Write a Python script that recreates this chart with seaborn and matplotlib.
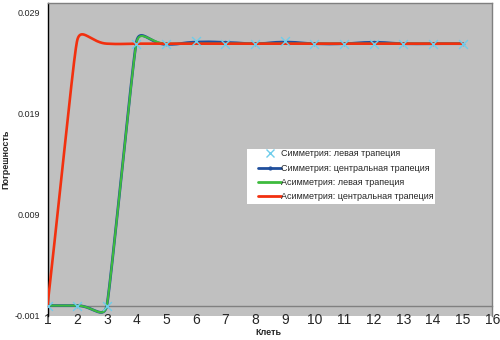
import numpy as np
import pandas as pd
import matplotlib
matplotlib.use("Agg")
import matplotlib.pyplot as plt
import seaborn as sns
from matplotlib.lines import Line2D
from matplotlib.patches import Rectangle

# ---- data ----
cells = [1, 2, 3, 4, 5, 6, 7, 8, 9, 10, 11, 12, 13, 14, 15]
sym_left = [0.0, 0.0, 0.0, 0.0259, 0.02583, 0.02619, 0.0259, 0.0259, 0.02619,
            0.0259, 0.0259, 0.0259, 0.0259, 0.0259, 0.0259]
sym_central = [0.0, 0.0, 0.0, 0.0261, 0.02583, 0.02605, 0.02603, 0.0259, 0.02605,
               0.0259, 0.0259, 0.02603, 0.0259, 0.0259, 0.0259]
asym_left = [0.0, 0.0, 0.0, 0.0260, 0.0259, 0.0259, 0.0259, 0.0259, 0.0259,
             0.0259, 0.0259, 0.0259, 0.0259, 0.0259, 0.0259]
asym_central = [0.0, 0.0262, 0.0259, 0.0259, 0.0259, 0.0259, 0.0259, 0.0259, 0.0259,
                0.0259, 0.0259, 0.0259, 0.0259, 0.0259, 0.0259]

labels = ["Симметрия: левая трапеция", "Симметрия: центральная трапеция",
          "Асимметрия: левая трапеция", "Асимметрия: центральная трапеция"]
x_ticks = list(range(1, 17))
y_ticks = [-0.001, 0.009, 0.019, 0.029]

# ---- style ----
sns.set_style("white")
plt.rcParams["font.family"] = ["Liberation Sans", "DejaVu Sans"]
FS = 6.5

fig = plt.figure(figsize=(5.0, 3.4), dpi=100)
AX_L, AX_R, AX_T, AX_B = 47.5, 492.3, 2.7, 315.7
ax = fig.add_axes([AX_L / 500, 1 - AX_B / 340, (AX_R - AX_L) / 500, (AX_B - AX_T) / 340])
ax.set_facecolor("#C0C0C0")

X0, X1 = 1, 16
Y0, Y1 = -0.001, 0.02995
SX = (AX_R - AX_L) / (X1 - X0)
SY = (AX_B - AX_T) / (Y1 - Y0)


def excel_smooth(xs, ys, f=0.53, n=40):
    """Smoothed (Excel-like) rendering of a line through the given points."""
    P = np.column_stack([np.asarray(xs, float) * SX, np.asarray(ys, float) * SY])
    m = len(P)
    d = np.linalg.norm(np.diff(P, axis=0), axis=1)
    tang = np.zeros_like(P)
    mag = np.zeros(m)
    for i in range(m):
        a = P[i - 1] if i > 0 else P[i]
        b = P[i + 1] if i < m - 1 else P[i]
        v = b - a
        nv = np.linalg.norm(v)
        tang[i] = v / nv if nv > 0 else 0
        if 0 < i < m - 1:
            mag[i] = f * min(d[i - 1], d[i])
        elif i == 0:
            mag[i] = f * d[0]
        else:
            mag[i] = f * d[-1]
    t = np.linspace(0, 1, n)[:, None]
    out = []
    for i in range(m - 1):
        p1, p2 = P[i], P[i + 1]
        c1 = p1 + tang[i] * mag[i]
        c2 = p2 - tang[i + 1] * mag[i + 1]
        seg = ((1 - t) ** 3) * p1 + 3 * ((1 - t) ** 2) * t * c1 + 3 * (1 - t) * t ** 2 * c2 + t ** 3 * p2
        out.append(seg if i == 0 else seg[1:])
    out = np.vstack(out)
    return out[:, 0] / SX, out[:, 1] / SY


c_cyan = "#6FCDEB"
c_blue = "#1F4E9C"
c_green = "#3DBB3D"
c_red = "#F2300F"

# symmetry central (blue)
bx, by = excel_smooth(cells, sym_central)
sns.lineplot(x=bx, y=by, ax=ax, color=c_blue, lw=2.0, sort=False, estimator=None, zorder=3)
sns.scatterplot(x=cells, y=sym_central, ax=ax, color=c_blue, s=6, marker="o",
                edgecolor=c_blue, linewidth=0, zorder=4)
# asymmetry left (green)
gx, gy = excel_smooth(cells, asym_left)
sns.lineplot(x=gx, y=gy, ax=ax, color=c_green, lw=1.5, sort=False, estimator=None, zorder=5)
# asymmetry central (red)
rx, ry = excel_smooth(cells, asym_central)
sns.lineplot(x=rx, y=ry, ax=ax, color=c_red, lw=1.9, sort=False, estimator=None, zorder=7)
# symmetry left (cyan x markers)
sns.scatterplot(x=cells, y=sym_left, ax=ax, color=c_cyan, s=40, marker="x",
                linewidth=1.0, zorder=8)

ax.set_xlim(X0, X1)
ax.set_ylim(Y0, Y1)
ax.set_xticks(x_ticks)
ax.set_xticklabels([str(v) for v in x_ticks], fontsize=FS)
ax.set_yticks(y_ticks)
ax.set_yticklabels([f"{v:.3f}" for v in y_ticks], fontsize=FS)

for s in ["top", "right"]:
    ax.spines[s].set_color("#7F7F7F")
    ax.spines[s].set_linewidth(1.0)
ax.spines["left"].set_color("#000000")
ax.spines["left"].set_linewidth(1.0)
ax.spines["bottom"].set_position(("data", 0))
ax.spines["bottom"].set_color("#808080")
ax.spines["bottom"].set_linewidth(1.0)
ax.spines["bottom"].set_zorder(2)

ax.tick_params(axis="y", direction="out", length=3, width=0.8, color="#000000", pad=2)
ax.tick_params(axis="x", direction="inout", length=4, width=0.8, color="#606060", pad=3)

ax.set_xlabel("Клеть", fontsize=FS, fontweight="bold")
ax.set_ylabel("Погрешность", fontsize=FS, fontweight="bold")
ax.xaxis.set_label_coords((268 - AX_L) / (AX_R - AX_L), -(328 - AX_B) / (AX_B - AX_T))
ax.yaxis.set_label_coords(-(AX_L - 10) / (AX_R - AX_L), 0.5)


def ax_frac(px, py):
    return (px - AX_L) / (AX_R - AX_L), (AX_B - py) / (AX_B - AX_T)


# white legend box
bx0, by0 = ax_frac(247, 204)
bx1, by1 = ax_frac(435, 149)
ax.add_patch(Rectangle((bx0, by0), bx1 - bx0, by1 - by0, transform=ax.transAxes,
                       facecolor="white", edgecolor="none", zorder=19))

handles = [
    Line2D([], [], color=c_cyan, marker="x", linestyle="none", markersize=6, markeredgewidth=1.0),
    Line2D([], [], color=c_blue, marker="o", markersize=2, lw=2.0),
    Line2D([], [], color=c_green, lw=2.0),
    Line2D([], [], color=c_red, lw=2.0),
]
lx, ly = ax_frac(258, 149.5)
leg = ax.legend(handles, labels, loc="upper left", bbox_to_anchor=(lx, ly),
                fontsize=FS, frameon=False, borderpad=0.0, labelspacing=0.58,
                handlelength=2.55, handletextpad=0.05, borderaxespad=0)
leg.set_zorder(20)

fig.savefig("out.png", dpi=100)
